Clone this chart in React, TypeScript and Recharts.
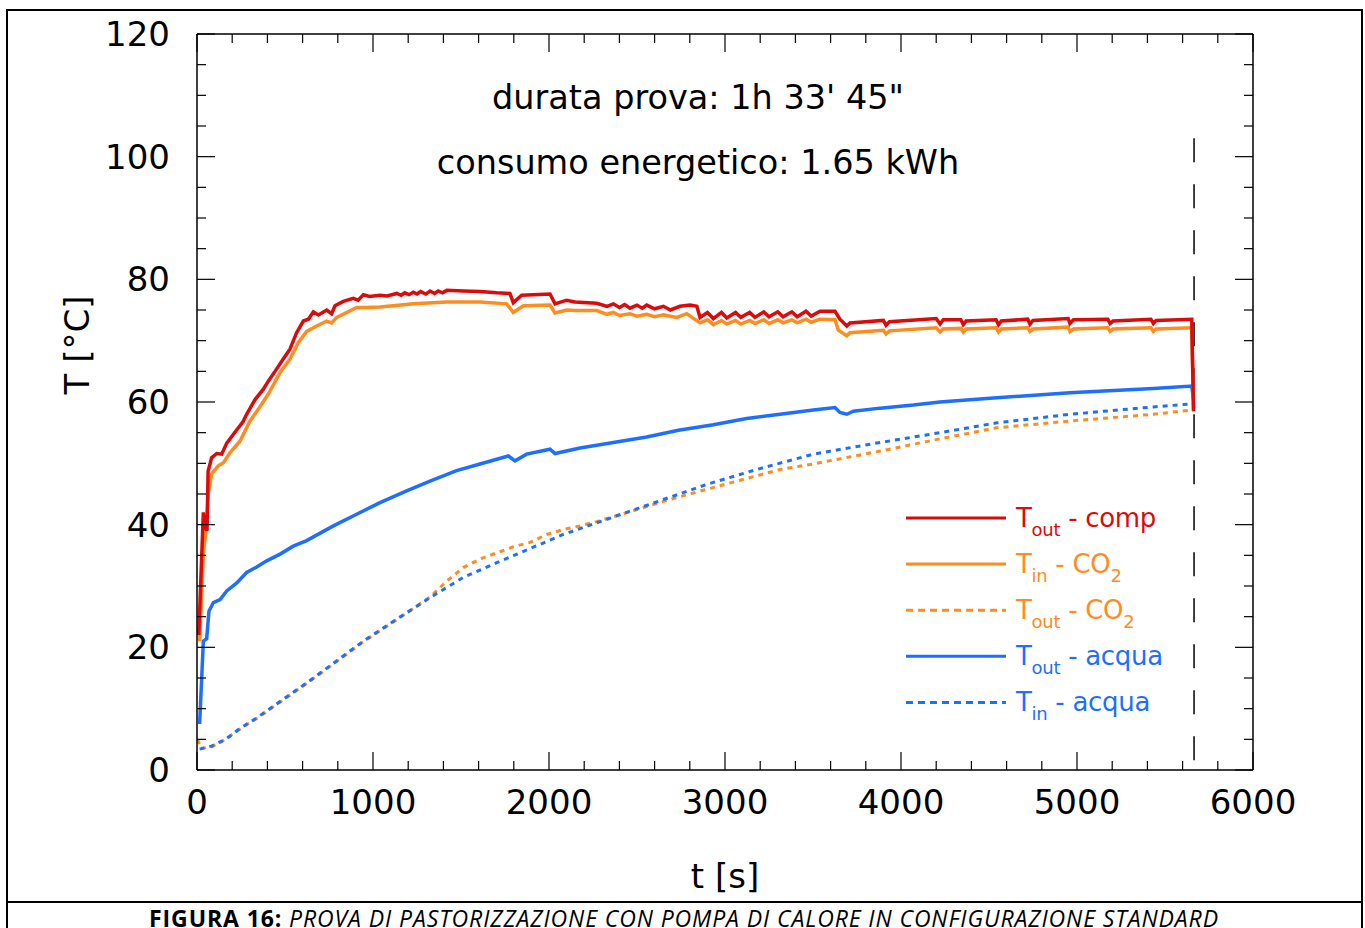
import { LineChart, Line, XAxis, YAxis, Legend, ReferenceLine } from 'recharts'

// T out - comp (red)
const compTime = [10, 36, 48, 57, 63, 74, 83, 112, 140, 169, 206, 235, 262, 282, 330, 377, 405, 453, 490, 528, 566, 604, 633, 661, 690, 737, 765, 784, 831, 888, 916, 945, 980, 1040, 1080, 1135, 1160, 1180, 1205, 1229, 1250, 1270, 1300, 1324, 1350, 1370, 1395, 1419, 1514, 1608, 1703, 1778, 1797, 1845, 2006, 2034, 2100, 2148, 2271, 2330, 2366, 2400, 2430, 2460, 2500, 2530, 2555, 2600, 2650, 2690, 2744, 2801, 2840, 2858, 2900, 2934, 2980, 3010, 3060, 3090, 3140, 3170, 3220, 3250, 3300, 3330, 3380, 3410, 3460, 3490, 3540, 3625, 3653, 3692, 3710, 3900, 3915, 3935, 4200, 4222, 4240, 4340, 4354, 4370, 4540, 4554, 4570, 4720, 4733, 4750, 4950, 4960, 4980, 5175, 5188, 5205, 5420, 5434, 5450, 5652, 5662]
const compTemp = [22, 42, 39.5, 39, 48.7, 49.9, 50.9, 51.6, 51.5, 53.3, 54.7, 55.8, 56.8, 58.0, 60.4, 62.1, 63.4, 65.4, 67.0, 68.6, 71.3, 73.2, 73.5, 74.7, 74.2, 75.0, 74.4, 75.7, 76.4, 76.9, 76.6, 77.5, 77.2, 77.4, 77.3, 77.7, 77.4, 77.8, 77.5, 77.9, 77.6, 78.0, 77.6, 78.1, 77.7, 78.1, 77.8, 78.2, 78.1, 78.0, 77.8, 77.7, 76.2, 77.4, 77.6, 76.0, 76.6, 76.3, 76.1, 75.6, 76.0, 75.4, 75.9, 75.3, 75.8, 75.3, 75.8, 75.2, 75.6, 75.0, 75.6, 75.8, 75.6, 73.8, 74.6, 73.6, 74.6, 73.7, 74.6, 73.8, 74.6, 73.8, 74.7, 73.9, 74.7, 73.9, 74.7, 73.9, 74.8, 74.0, 74.8, 74.8, 73.5, 72.4, 72.9, 73.3, 72.5, 73.1, 73.6, 72.7, 73.4, 73.4, 72.6, 73.2, 73.4, 72.6, 73.2, 73.5, 72.7, 73.3, 73.6, 72.8, 73.4, 73.5, 72.8, 73.2, 73.5, 72.8, 73.3, 73.5, 58.5]

// T in - CO2 (orange)
const co2InTime = [15, 36, 51, 64, 83, 121, 150, 187, 244, 301, 348, 405, 472, 528, 576, 623, 680, 737, 765, 794, 850, 907, 960, 1040, 1229, 1419, 1608, 1760, 1797, 1855, 2006, 2034, 2100, 2150, 2271, 2330, 2366, 2400, 2460, 2500, 2555, 2600, 2650, 2726, 2782, 2858, 2900, 2934, 2980, 3010, 3060, 3090, 3140, 3170, 3220, 3250, 3300, 3330, 3380, 3410, 3460, 3490, 3540, 3625, 3644, 3692, 3710, 3900, 3915, 3935, 4200, 4222, 4240, 4340, 4354, 4370, 4540, 4554, 4570, 4720, 4733, 4750, 4950, 4960, 4980, 5175, 5188, 5205, 5420, 5434, 5450, 5652, 5662]
const co2InTemp = [21.0, 35.2, 39, 45, 48.3, 49.6, 50.1, 51.7, 53.6, 56.9, 58.8, 61.3, 64.8, 67.0, 69.7, 71.5, 72.4, 73.2, 72.9, 73.8, 74.6, 75.4, 75.4, 75.5, 76.0, 76.3, 76.3, 76.0, 74.6, 75.7, 75.8, 74.5, 75.0, 74.9, 74.9, 74.3, 74.6, 74.1, 74.4, 74.0, 74.3, 73.9, 74.2, 73.8, 74.4, 72.9, 73.4, 72.6, 73.3, 72.7, 73.3, 72.7, 73.3, 72.8, 73.4, 72.8, 73.4, 72.9, 73.4, 72.9, 73.5, 73.0, 73.5, 73.4, 71.7, 70.8, 71.3, 71.7, 71.1, 71.6, 72.1, 71.4, 71.9, 72.0, 71.4, 71.9, 72.1, 71.4, 71.9, 72.1, 71.5, 71.9, 72.2, 71.5, 71.9, 72.1, 71.5, 71.9, 72.1, 71.5, 71.9, 72.1, 59.0]

// T out - CO2 (orange, dotted)
const co2OutTime = [5, 20, 83, 140, 235, 339, 434, 528, 623, 756, 945, 1135, 1324, 1419, 1513, 1608, 1703, 1797, 1892, 1987, 2081, 2176, 2271, 2460, 2650, 2900, 3313, 3502, 3881, 4222, 4544, 4960, 5434, 5652]
const co2OutTemp = [5.0, 3.5, 3.8, 4.6, 6.5, 8.4, 10.3, 12.2, 14.1, 16.9, 20.9, 24.5, 28.2, 30.8, 33.0, 34.4, 35.4, 36.4, 37.1, 38.4, 39.2, 39.8, 40.5, 42.1, 43.8, 45.8, 49.0, 49.9, 52.0, 54.0, 55.8, 56.9, 58.0, 58.7]

// T out - acqua (blue)
const waterOutTime = [15, 36, 55, 68, 93, 131, 169, 226, 282, 339, 396, 472, 547, 623, 775, 907, 1040, 1191, 1324, 1475, 1608, 1769, 1807, 1873, 2006, 2034, 2176, 2366, 2555, 2735, 2934, 3123, 3313, 3502, 3625, 3653, 3692, 3730, 3881, 4070, 4222, 4544, 4960, 5434, 5652, 5662]
const waterOutTemp = [7.5, 21.0, 21.4, 25.9, 27.3, 27.8, 29.2, 30.5, 32.2, 33.1, 34.1, 35.2, 36.5, 37.4, 39.8, 41.7, 43.6, 45.5, 47.1, 48.8, 49.9, 51.2, 50.4, 51.5, 52.3, 51.6, 52.5, 53.4, 54.3, 55.4, 56.3, 57.3, 58.0, 58.7, 59.1, 58.3, 58.0, 58.5, 59.0, 59.5, 60.0, 60.7, 61.5, 62.2, 62.6, 60.4]

// T in - acqua (blue, dotted)
const waterInTime = [15, 83, 140, 187, 235, 339, 434, 528, 623, 756, 945, 1135, 1324, 1513, 1703, 1892, 2081, 2271, 2460, 2650, 2900, 3180, 3502, 3881, 4222, 4544, 4960, 5434, 5652]
const waterInTemp = [3.4, 3.9, 4.7, 5.5, 6.6, 8.5, 10.4, 12.3, 14.2, 17.0, 21.0, 24.6, 28.1, 31.4, 33.8, 36.1, 38.4, 40.3, 42.2, 44.1, 46.6, 49.0, 51.5, 53.4, 55.0, 56.6, 58.0, 59.2, 59.7]

const xTicks = Array.from({ length: 31 }, (_, i) => i * 200)
const yTicks = Array.from({ length: 25 }, (_, i) => i * 5)
const testEnd = 5665

const RED = '#dc0a0a'
const ORANGE = '#ff8c1e'
const BLUE = '#1f6fff'
const FONT = '"DejaVu Sans", sans-serif'

const toPoints = (time: number[], temp: number[]) => time.map((t, i) => ({ t, v: temp[i] }))

function BottomTick({ x, y, payload }: any) {
  const major = payload.value % 1000 === 0
  return (
    <g>
      <line x1={x} y1={y} x2={x} y2={y - (major ? 18 : 9)} stroke="#000" strokeWidth={1.2} />
      {major && (
        <text x={x} y={y + 44} textAnchor="middle" fontSize={34} fontFamily={FONT} fill="#000">
          {payload.value}
        </text>
      )}
    </g>
  )
}

function TopTick({ x, y, payload }: any) {
  const major = payload.value % 1000 === 0
  return <line x1={x} y1={y} x2={x} y2={y + (major ? 18 : 9)} stroke="#000" strokeWidth={1.2} />
}

function LeftTick({ x, y, payload }: any) {
  const major = payload.value % 20 === 0
  return (
    <g>
      <line x1={x} y1={y} x2={x + (major ? 18 : 9)} y2={y} stroke="#000" strokeWidth={1.2} />
      {major && (
        <text x={x - 27} y={y + 12} textAnchor="end" fontSize={34} fontFamily={FONT} fill="#000">
          {payload.value}
        </text>
      )}
    </g>
  )
}

function RightTick({ x, y, payload }: any) {
  const major = payload.value % 20 === 0
  return <line x1={x} y1={y} x2={x - (major ? 18 : 9)} y2={y} stroke="#000" strokeWidth={1.2} />
}

const legendRows = [
  { sub: 'out', rest: ' - comp', color: RED, dash: undefined, co2: false },
  { sub: 'in', rest: ' - CO', color: ORANGE, dash: undefined, co2: true },
  { sub: 'out', rest: ' - CO', color: ORANGE, dash: '7 5', co2: true },
  { sub: 'out', rest: ' - acqua', color: BLUE, dash: undefined, co2: false },
  { sub: 'in', rest: ' - acqua', color: BLUE, dash: '7 5', co2: false },
]

function LegendBox() {
  return (
    <svg width={320} height={230} style={{ overflow: 'visible' }}>
      {legendRows.map((r, i) => {
        const y = 23 + i * 46.1
        return (
          <g key={i}>
            <line x1={11} y1={y} x2={111} y2={y} stroke={r.color} strokeWidth={3} strokeDasharray={r.dash} />
            <text x={121} y={y + 9} fill={r.color} fontSize={26} fontFamily={FONT} letterSpacing={-0.3}>
              T
              <tspan fontSize={18} dy={9}>{r.sub}</tspan>
              <tspan dy={-9}>{r.rest}</tspan>
              {r.co2 && <tspan fontSize={18} dy={9}>2</tspan>}
            </text>
          </g>
        )
      })}
    </svg>
  )
}

const noteStyle = {
  position: 'absolute' as const,
  left: 698,
  transform: 'translateX(-50%)',
  whiteSpace: 'nowrap' as const,
  fontFamily: FONT,
  fontSize: 33.5,
  lineHeight: '38px',
}

export default function App() {
  return (
    <div style={{ position: 'absolute', left: 0, top: 0, width: 1365, height: 928, overflow: 'hidden', background: '#fff' }}>
      <div style={{ position: 'absolute', left: 6, top: 9, width: 1353, height: 960, border: '2px solid #000' }} />
      <div style={{ position: 'absolute', left: 6, top: 901, width: 1357, height: 2, background: '#000' }} />
      <div style={{ position: 'absolute', left: 0, top: 0 }}>
        <LineChart width={1365} height={928} margin={{ top: 24, right: 102, bottom: 128, left: 137 }}>
          <XAxis dataKey="t" type="number" domain={[0, 6000]} ticks={xTicks} interval={0} allowDataOverflow
            height={30} tickSize={0} tickMargin={0} tick={<BottomTick />} axisLine={{ stroke: '#000', strokeWidth: 1.5 }} />
          <XAxis xAxisId="top" orientation="top" dataKey="t" type="number" domain={[0, 6000]} ticks={xTicks} interval={0} allowDataOverflow
            height={10} tickSize={0} tickMargin={0} tick={<TopTick />} axisLine={{ stroke: '#000', strokeWidth: 1.5 }} />
          <YAxis type="number" domain={[0, 120]} ticks={yTicks} interval={0} allowDataOverflow
            width={60} tickSize={0} tickMargin={0} tick={<LeftTick />} axisLine={{ stroke: '#000', strokeWidth: 1.5 }} />
          <YAxis yAxisId="right" orientation="right" type="number" domain={[0, 120]} ticks={yTicks} interval={0} allowDataOverflow
            width={10} tickSize={0} tickMargin={0} tick={<RightTick />} axisLine={{ stroke: '#000', strokeWidth: 1.5 }} />
          <ReferenceLine segment={[{ x: testEnd, y: 103 }, { x: testEnd, y: 0 }]} stroke="#000" strokeWidth={1.5} strokeDasharray="24 22" />
          <Line data={toPoints(co2OutTime, co2OutTemp)} dataKey="v" type="linear" stroke={ORANGE} strokeWidth={3} strokeDasharray="5 5" dot={false} isAnimationActive={false} />
          <Line data={toPoints(waterInTime, waterInTemp)} dataKey="v" type="linear" stroke={BLUE} strokeWidth={3} strokeDasharray="5 5" dot={false} isAnimationActive={false} />
          <Line data={toPoints(waterOutTime, waterOutTemp)} dataKey="v" type="linear" stroke={BLUE} strokeWidth={3.5} dot={false} isAnimationActive={false} />
          <Line data={toPoints(co2InTime, co2InTemp)} dataKey="v" type="linear" stroke={ORANGE} strokeWidth={3.5} dot={false} isAnimationActive={false} />
          <Line data={toPoints(compTime, compTemp)} dataKey="v" type="linear" stroke={RED} strokeWidth={3.5} dot={false} isAnimationActive={false} />
          <Legend verticalAlign="middle" align="center" layout="horizontal" width={320} height={230}
            wrapperStyle={{ left: 895, top: 495 }} content={() => <LegendBox />} />
        </LineChart>
      </div>
      <div style={{ ...noteStyle, top: 79 }}>durata prova: 1h 33' 45"</div>
      <div style={{ ...noteStyle, top: 144 }}>consumo energetico: 1.65 kWh</div>
      <div style={{ position: 'absolute', left: 725, top: 855, transform: 'translateX(-50%)', whiteSpace: 'nowrap', fontFamily: FONT, fontSize: 34, lineHeight: '42px' }}>
        t [s]
      </div>
      <div style={{ position: 'absolute', left: 77, top: 345, transform: 'translate(-50%, -50%) rotate(-90deg)', whiteSpace: 'nowrap', fontFamily: FONT, fontSize: 34, lineHeight: '42px' }}>
        T [°C]
      </div>
      <div style={{ position: 'absolute', left: 684, top: 905, transform: 'translateX(-50%)', whiteSpace: 'nowrap', fontFamily: '"Open Sans", sans-serif', fontSize: 23, lineHeight: '26px', letterSpacing: 0.9 }}>
        <b>FIGURA 16:</b> <i>PROVA DI PASTORIZZAZIONE CON POMPA DI CALORE IN CONFIGURAZIONE STANDARD</i>
      </div>
    </div>
  )
}
